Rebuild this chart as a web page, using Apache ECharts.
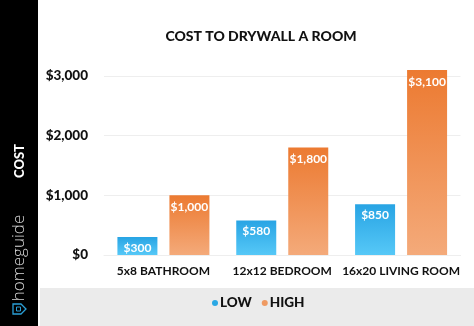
<!DOCTYPE html>
<html>
<head>
<meta charset="utf-8">
<script src="https://cdn.jsdelivr.net/npm/echarts@6/dist/echarts.min.js"></script>
<style>
html,body{margin:0;padding:0;background:#fff;}
#c{width:474px;height:326px;}
</style>
</head>
<body>
<div id="c"></div>
<script>
const categories = ['5x8 BATHROOM', '12x12 BEDROOM', '16x20 LIVING ROOM'];
const lowValues = [300, 580, 850];
const highValues = [1000, 1800, 3100];
const lowLabels = ['$300', '$580', '$850'];
const highLabels = ['$1,000', '$1,800', '$3,100'];
const yTicks = [0, 1000, 2000, 3000];
const yTickLabels = ['$0', '$1,000', '$2,000', '$3,000'];

const FONT = 'Lato';
const chart = echarts.init(document.getElementById('c'), null, {renderer: 'canvas'});

function grad(top, bottom) {
  return new echarts.graphic.LinearGradient(0, 0, 0, 1, [
    {offset: 0, color: top}, {offset: 1, color: bottom}
  ]);
}

chart.setOption({
  animation: false,
  backgroundColor: '#ffffff',
  title: {
    text: 'COST TO DRYWALL A ROOM',
    left: 256, top: 24, textAlign: 'center',
    textStyle: {fontFamily: FONT, fontWeight: 900, fontSize: 14, color: '#111', letterSpacing: 0.8}
  },
  legend: {
    bottom: 11, left: 207,
    icon: 'circle', itemWidth: 6, itemHeight: 6, itemGap: 10,
    textStyle: {fontFamily: FONT, fontWeight: 900, fontSize: 13.5, color: '#111', padding: [0, 0, 0, -3], letterSpacing: 0.4},
    data: [
      {name: 'LOW', itemStyle: {color: '#2aa8e4'}},
      {name: 'HIGH', itemStyle: {color: '#ef9a62'}}
    ]
  },
  graphic: [
    {type: 'rect', z: -1, shape: {x: 0, y: 0, width: 38, height: 326}, style: {fill: '#000'}},
    {type: 'rect', z: -1, shape: {x: 40, y: 288, width: 434, height: 38}, style: {fill: '#ebebeb'}},
    {type: 'text', x: 20, y: 161, rotation: Math.PI / 2,
      style: {text: 'COST', fill: '#fff', font: '900 13px Lato', align: 'center', verticalAlign: 'middle'}},
    {type: 'text', x: 19, y: 258, rotation: Math.PI / 2,
      style: {text: 'homeguide', fill: '#d8d8d8', font: '300 17px "Open Sans"', align: 'center', verticalAlign: 'middle'}},
    {type: 'group', x: 19, y: 309, children: [
      {type: 'polygon', shape: {points: [[-6, -5], [2, -5], [7, 0], [2, 5], [-6, 5]]},
        style: {fill: 'none', stroke: '#2a9fd6', lineWidth: 1.3}},
      {type: 'rect', shape: {x: -2.5, y: -2, width: 4, height: 4}, style: {fill: 'none', stroke: '#2a9fd6', lineWidth: 1}}
    ]}
  ],
  grid: {left: 104, right: 13.5, top: 76, bottom: 71, containLabel: false},
  xAxis: {
    type: 'category', data: categories,
    axisLine: {show: true, lineStyle: {color: '#eeeeee'}},
    axisTick: {show: false},
    axisLabel: {interval: 0, fontFamily: FONT, fontWeight: 700, fontSize: 12, color: '#111', margin: 10, letterSpacing: -0.2}
  },
  yAxis: {
    type: 'value', min: 0, max: 3000, interval: 1000,
    axisLine: {show: false}, axisTick: {show: false},
    splitLine: {lineStyle: {color: '#eeeeee'}},
    axisLabel: {
      fontFamily: FONT, fontWeight: 900, fontSize: 13.5, color: '#111', margin: 16,
      formatter: v => yTickLabels[yTicks.indexOf(v)]
    }
  },
  series: [
    {
      name: 'LOW', type: 'bar', data: lowValues, barWidth: 40, barGap: '30%', clip: false,
      itemStyle: {color: grad('#28a4e4', '#56c8f7')},
      label: {show: true, position: 'insideTop', distance: 5, color: '#fff',
        fontFamily: FONT, fontWeight: 700, fontSize: 12,
        formatter: p => lowLabels[p.dataIndex]}
    },
    {
      name: 'HIGH', type: 'bar', data: highValues, barWidth: 40, clip: false,
      itemStyle: {color: grad('#ec7a31', '#f4aa7a')},
      label: {show: true, position: 'insideTop', distance: 6, color: '#fff',
        fontFamily: FONT, fontWeight: 700, fontSize: 12,
        formatter: p => highLabels[p.dataIndex]}
    }
  ]
});
</script>
</body>
</html>
